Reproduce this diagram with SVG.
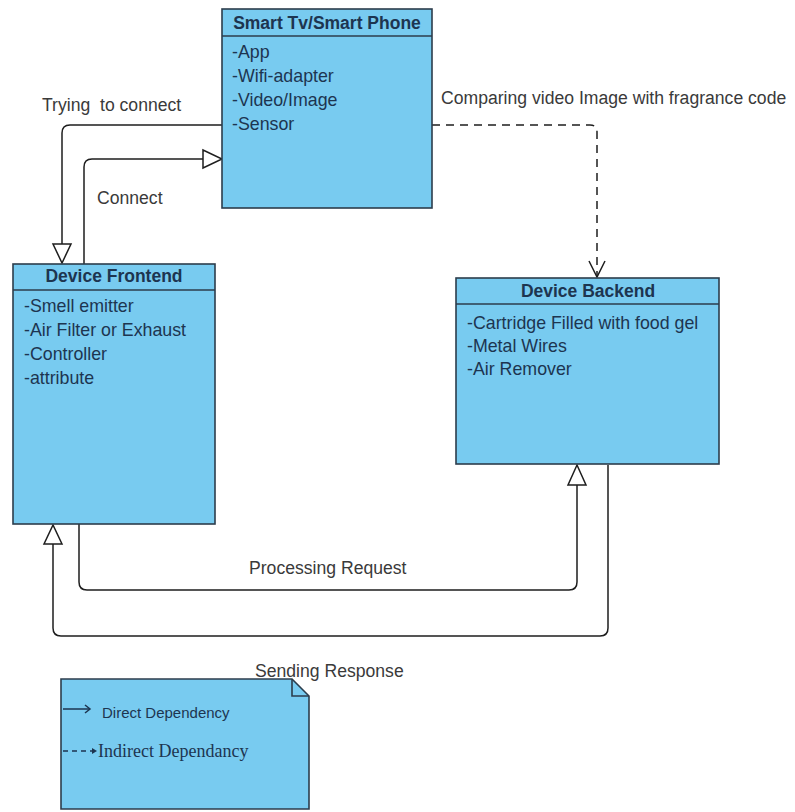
<svg xmlns="http://www.w3.org/2000/svg" width="795" height="812" viewBox="0 0 795 812">
<defs>
<style>
.box{fill:#78CBF0;stroke:#2c3d4c;stroke-width:1.6}
.sep{stroke:#2c3d4c;stroke-width:1.4}
.title{font-family:"Liberation Sans",Arial,sans-serif;font-size:17.5px;font-weight:bold;fill:#1d3550;text-anchor:middle}
.item{font-family:"Liberation Sans",Arial,sans-serif;font-size:17.8px;fill:#1d3550}
.lbl{font-family:"Liberation Sans",Arial,sans-serif;font-size:17.6px;fill:#3a3a3a;white-space:pre}
.con{fill:none;stroke:#1e1e1e;stroke-width:1.5}
.dash{fill:none;stroke:#1e1e1e;stroke-width:1.5;stroke-dasharray:8 6}
.tri{fill:#ffffff;stroke:#1e1e1e;stroke-width:1.5}
</style>
</defs>
<rect width="795" height="812" fill="#ffffff"/>
<g id="connectors">
<path class="con" d="M222,125 H70 Q62,125 62,133 V244"/>
<polygon class="tri" points="53,244 71,244 62,263"/>
<path class="con" d="M84,264 V167 Q84,159 92,159 H203"/>
<polygon class="tri" points="203,150 203,168 222,159"/>
<path class="dash" d="M432,125 H590 Q597,125 597,132 V277"/>
<polyline class="con" points="589,261 597,277 605,261"/>
<path class="con" d="M79,524 V582 Q79,590 87,590 H569 Q577,590 577,582 V485"/>
<polygon class="tri" points="568,485 586,485 577,465"/>
<path class="con" d="M608,465 V628 Q608,636 600,636 H61 Q53,636 53,628 V544"/>
<polygon class="tri" points="44,544 62,544 53,525"/>
<text class="lbl" x="42" y="111">Trying  to connect</text>
<text class="lbl" x="97" y="204">Connect</text>
<text class="lbl" x="441" y="104">Comparing video Image with fragrance code</text>
<text class="lbl" x="249" y="574">Processing Request</text>
<text class="lbl" x="255" y="677">Sending Response</text>
</g>
<g id="smart-tv">
<rect class="box" x="222" y="9" width="210" height="199"/>
<line class="sep" x1="222" y1="36" x2="432" y2="36"/>
<text class="title" x="327" y="29">Smart Tv/Smart Phone</text>
<text class="item" x="232" y="58">-App</text>
<text class="item" x="232" y="82">-Wifi-adapter</text>
<text class="item" x="232" y="106">-Video/Image</text>
<text class="item" x="232" y="130">-Sensor</text>
</g>
<g id="device-frontend">
<rect class="box" x="13" y="264" width="202" height="260"/>
<line class="sep" x1="13" y1="290" x2="215" y2="290"/>
<text class="title" x="114" y="282">Device Frontend</text>
<text class="item" x="24" y="312">-Smell emitter</text>
<text class="item" x="24" y="336">-Air Filter or Exhaust</text>
<text class="item" x="24" y="360">-Controller</text>
<text class="item" x="24" y="384">-attribute</text>
</g>
<g id="device-backend">
<rect class="box" x="456" y="278" width="263" height="186"/>
<line class="sep" x1="456" y1="304" x2="719" y2="304"/>
<text class="title" x="588" y="297">Device Backend</text>
<text class="item" x="467" y="329">-Cartridge Filled with food gel</text>
<text class="item" x="467" y="352">-Metal Wires</text>
<text class="item" x="467" y="375">-Air Remover</text>
</g>
<g id="legend">
<path class="box" d="M61,679 H292 L309,696 V809 H61 Z"/>
<path fill="none" stroke="#2c3d4c" stroke-width="1.6" d="M292,679 V696 H309"/>
<line x1="63" y1="709" x2="90" y2="709" stroke="#1d3550" stroke-width="1.5"/>
<polyline points="85,705 90,709 85,713" fill="none" stroke="#1d3550" stroke-width="1.5"/>
<text x="102" y="718" font-family="'Liberation Sans',Arial,sans-serif" font-size="15" fill="#1d3550">Direct Dependency</text>
<line x1="63" y1="751" x2="92" y2="751" stroke="#1d3550" stroke-width="1.3" stroke-dasharray="5 4"/>
<polygon points="92,748 97,751 92,754" fill="#1d3550"/>
<text x="98" y="757" font-family="'Liberation Serif','Times New Roman',serif" font-size="18" fill="#1d3550">Indirect Dependancy</text>
</g>
</svg>
